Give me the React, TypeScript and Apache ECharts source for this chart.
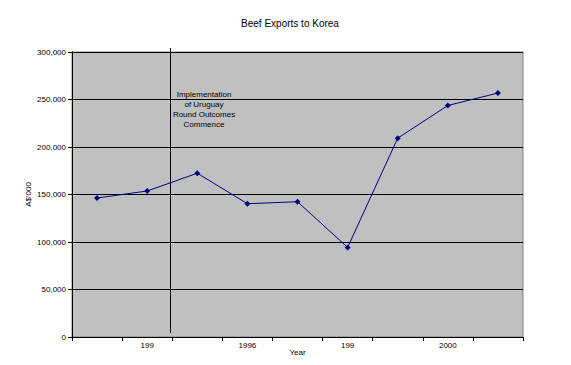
import React, { useEffect, useRef } from "react";
import * as echarts from "echarts";

const years = ["1993", "1994", "1995", "1996", "1997", "1998", "1999", "2000", "2001"];
const tickLabels = ["", "199", "", "1996", "", "199", "", "2000", ""];
const exportsValues = [146300, 153700, 172400, 140300, 142400, 94300, 209300, 243700, 256800];
const yTicks = [0, 50000, 100000, 150000, 200000, 250000, 300000];

const FONT = "'Liberation Sans', Arial, sans-serif";

export default function App() {
  const ref = useRef<HTMLDivElement>(null);
  useEffect(() => {
    if (!ref.current) return;
    const chart = echarts.init(ref.current, null, { renderer: "svg" });
    chart.setOption({
      animation: false,
      backgroundColor: "#ffffff",
      title: {
        text: "Beef Exports to Korea",
        left: 285,
        textAlign: "center",
        top: 13,
        textStyle: { fontFamily: FONT, fontSize: 10, fontWeight: "normal", color: "#000" },
      },
      grid: {
        left: 72,
        right: 48,
        top: 52,
        bottom: 28,
        show: true,
        backgroundColor: "#c0c0c0",
        borderColor: "#808080",
        borderWidth: 1,
      },
      xAxis: {
        type: "category",
        data: years,
        boundaryGap: true,
        name: "Year",
        nameLocation: "middle",
        nameGap: 11,
        nameMoveOverlap: false,
        nameTextStyle: { fontFamily: FONT, fontSize: 8, color: "#000" },
        axisLine: { show: true, lineStyle: { color: "#000", width: 1 } },
        axisTick: { show: true, inside: false, length: 4, interval: 0, lineStyle: { color: "#000" } },
        axisLabel: {
          interval: 0,
          margin: 4,
          fontFamily: FONT,
          fontSize: 8,
          color: "#000",
          formatter: (_v: string, i: number) => tickLabels[i],
        },
        splitLine: { show: false },
      },
      yAxis: {
        type: "value",
        min: yTicks[0],
        max: yTicks[yTicks.length - 1],
        interval: yTicks[1] - yTicks[0],
        name: "A$'000",
        nameLocation: "middle",
        nameRotate: 90,
        nameGap: 40,
        nameMoveOverlap: false,
        nameTextStyle: { fontFamily: FONT, fontSize: 8, color: "#000" },
        axisLine: { show: true, lineStyle: { color: "#000", width: 1 } },
        axisTick: { show: true, inside: false, length: 4, lineStyle: { color: "#000" } },
        axisLabel: {
          margin: 6,
          fontFamily: FONT,
          fontSize: 8,
          color: "#000",
          formatter: (v: number) => v.toLocaleString("en-US"),
        },
        splitLine: { show: true, lineStyle: { color: "#000", width: 1 } },
      },
      series: [
        {
          type: "line",
          data: exportsValues,
          symbol: "diamond",
          symbolSize: 6,
          showSymbol: true,
          lineStyle: { color: "#000080", width: 1 },
          itemStyle: { color: "#000080" },
        },
      ],
      graphic: [
        {
          type: "line",
          shape: { x1: 170.5, y1: 48, x2: 170.5, y2: 333 },
          style: { stroke: "#000", lineWidth: 1 },
          z: 10,
        },
        {
          type: "text",
          x: 204,
          y: 89,
          z: 10,
          style: {
            text: "Implementation\nof Uruguay\nRound Outcomes\nCommence",
            fill: "#000",
            font: `8px ${FONT}`,
            align: "center",
            verticalAlign: "top",
            lineHeight: 10,
          },
        },
      ],
    });
    return () => chart.dispose();
  }, []);
  return <div ref={ref} style={{ width: 571, height: 365, position: "absolute", left: 0, top: 0 }} />;
}
